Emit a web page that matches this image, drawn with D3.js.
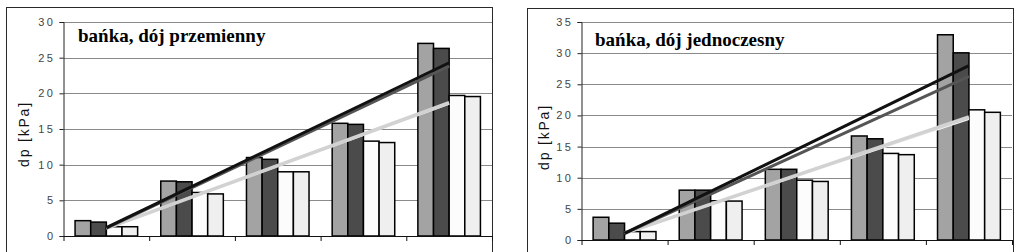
<!DOCTYPE html>
<html lang="pl">
  <head>
    <meta charset="UTF-8" />
    <title>dp kPa</title>
    <style>
      body {
        margin: 0;
        background: #fff;
      }
      svg {
        display: block;
      }
      .tick-label {
        font-family: "Liberation Sans", Arial, sans-serif;
        font-size: 11px;
        letter-spacing: 2.5px;
        fill: #444;
      }
      .y-title {
        font-family: "Liberation Sans", Arial, sans-serif;
        font-size: 14px;
        letter-spacing: 1.8px;
        fill: #111;
      }
      .chart-title {
        font-family: "Liberation Serif", "Times New Roman", serif;
        font-weight: bold;
        font-size: 19px;
        fill: #000;
      }
    </style>
    <script src="https://cdn.jsdelivr.net/npm/d3@7"></script>
  </head>
  <body>
    <svg id="chart" width="1023" height="252"></svg>
    <script>
      // categories (x labels are cut off in the picture)
      const categories = ["1", "2", "3", "4", "5"];
      const seriesNames = ["s1", "s2", "s3", "s4"];

      // left chart: bańka, dój przemienny
      const leftS1 = [2.15, 7.7, 11.0, 15.8, 27.0];
      const leftS2 = [1.95, 7.6, 10.75, 15.65, 26.3];
      const leftS3 = [1.3, 6.1, 9.0, 13.3, 19.7];
      const leftS4 = [1.3, 5.9, 9.0, 13.1, 19.55];
      const leftTicks = [0, 5, 10, 15, 20, 25, 30];

      // right chart: bańka, dój jednoczesny
      const rightS1 = [3.65, 8.0, 11.35, 16.7, 32.95];
      const rightS2 = [2.7, 8.0, 11.35, 16.25, 30.05];
      const rightS3 = [1.35, 6.3, 9.6, 13.9, 20.9];
      const rightS4 = [1.35, 6.25, 9.4, 13.7, 20.5];
      const rightTicks = [0, 5, 10, 15, 20, 25, 30, 35];

      const barColors = ["#a3a3a3", "#4b4b4b", "#fcfcfc", "#efefef"];
      const trendColors = ["#111111", "#555555", "#d2d2d2", "#f2f2f2"];
      const trendWidths = [3, 3, 3.5, 1.5];

      const svg = d3.select("#chart");

      // least squares line over category index 1..n
      function linearFit(vals) {
        const xs = vals.map((_, i) => i + 1);
        const mx = d3.mean(xs),
          my = d3.mean(vals);
        let num = 0,
          den = 0;
        xs.forEach((x, i) => {
          num += (x - mx) * (vals[i] - my);
          den += (x - mx) * (x - mx);
        });
        const slope = num / den;
        return (x) => my + slope * (x - mx);
      }

      function drawChart(cfg, series, ticks) {
        const g = svg.append("g");

        // outer chart frame
        g.append("rect")
          .attr("x", cfg.frame.x1 + 0.5)
          .attr("y", cfg.frame.y1 + 0.5)
          .attr("width", cfg.frame.x2 - cfg.frame.x1)
          .attr("height", 300)
          .attr("fill", "#fff")
          .attr("stroke", "#2a2a2a")
          .attr("stroke-width", 1);

        const x0 = d3
          .scaleBand()
          .domain(categories)
          .range([cfg.left, cfg.right])
          .paddingInner(0.27)
          .paddingOuter(0.135);
        const x1 = d3
          .scaleBand()
          .domain(seriesNames)
          .range([0, x0.bandwidth()]);
        const y = d3
          .scaleLinear()
          .domain([0, d3.max(ticks)])
          .range([cfg.bottom, cfg.top]);

        // gridlines
        g.append("g")
          .selectAll("line")
          .data(ticks.filter((t) => t > 0))
          .join("line")
          .attr("x1", cfg.left)
          .attr("x2", cfg.right)
          .attr("y1", (d) => Math.round(y(d)) + 0.5)
          .attr("y2", (d) => Math.round(y(d)) + 0.5)
          .attr("stroke", "#8a8a8a")
          .attr("stroke-width", 1);

        // bars
        const rows = categories.map((c, i) => ({
          cat: c,
          vals: series.map((s, k) => ({ key: seriesNames[k], k: k, val: s[i] })),
        }));
        g.append("g")
          .selectAll("g")
          .data(rows)
          .join("g")
          .attr("transform", (d) => "translate(" + x0(d.cat) + ",0)")
          .selectAll("rect")
          .data((d) => d.vals)
          .join("rect")
          .attr("x", (d) => x1(d.key))
          .attr("y", (d) => y(d.val))
          .attr("width", x1.bandwidth())
          .attr("height", (d) => cfg.bottom - y(d.val))
          .attr("fill", (d) => barColors[d.k])
          .attr("stroke", "#000")
          .attr("stroke-width", 1.5);

        // axes
        const yAxis = g
          .append("g")
          .attr("transform", "translate(" + cfg.left + ",0)")
          .call(d3.axisLeft(y).tickValues(ticks).tickSize(4).tickFormat(d3.format("d")));
        yAxis.attr("font-family", null).attr("font-size", null);
        yAxis.select(".domain").attr("stroke", "#222");
        yAxis.selectAll(".tick line").attr("stroke", "#222");
        yAxis.selectAll(".tick text").attr("class", "tick-label").attr("x", -8);

        const xBounds = d3.scaleLinear().domain([0, categories.length]).range([cfg.left, cfg.right]);
        const xAxis = g
          .append("g")
          .attr("transform", "translate(0," + cfg.bottom + ")")
          .call(
            d3
              .axisBottom(xBounds)
              .tickValues(d3.range(0, categories.length + 1))
              .tickSize(5)
              .tickSizeOuter(0)
              .tickFormat("")
          );
        xAxis.select(".domain").attr("stroke", "#111");
        xAxis.selectAll(".tick line").attr("stroke", "#111");

        // linear trend lines, category centre to category centre
        const first = categories[0],
          last = categories[categories.length - 1];
        const order = [3, 2, 1, 0];
        g.append("g")
          .selectAll("line")
          .data(order.map((k) => ({ k: k, fit: linearFit(series[k]) })))
          .join("line")
          .attr("x1", x0(first) + x0.bandwidth() / 2)
          .attr("x2", x0(last) + x0.bandwidth() / 2)
          .attr("y1", (d) => y(d.fit(1)))
          .attr("y2", (d) => y(d.fit(categories.length)))
          .attr("stroke", (d) => trendColors[d.k])
          .attr("stroke-width", (d) => trendWidths[d.k]);

        // y title
        g.append("text")
          .attr("class", "y-title")
          .attr("transform", "translate(" + cfg.yTitleX + "," + cfg.yTitleY + ") rotate(-90)")
          .attr("text-anchor", "middle")
          .text("dp [kPa]");

        // chart title
        g.append("text")
          .attr("class", "chart-title")
          .attr("x", cfg.titleX)
          .attr("y", cfg.titleY)
          .text(cfg.title);
      }

      drawChart(
        {
          frame: { x1: 6, y1: 7, x2: 492 },
          left: 63.5,
          right: 492,
          top: 22,
          bottom: 236,
          yTitleX: 29,
          yTitleY: 134,
          titleX: 78,
          titleY: 42,
          title: "bańka, dój przemienny",
        },
        [leftS1, leftS2, leftS3, leftS4],
        leftTicks
      );

      drawChart(
        {
          frame: { x1: 527, y1: 8, x2: 1013 },
          left: 581.5,
          right: 1012,
          top: 22,
          bottom: 240,
          yTitleX: 549,
          yTitleY: 137,
          titleX: 595,
          titleY: 46,
          title: "bańka, dój jednoczesny",
        },
        [rightS1, rightS2, rightS3, rightS4],
        rightTicks
      );
    </script>
  </body>
</html>
